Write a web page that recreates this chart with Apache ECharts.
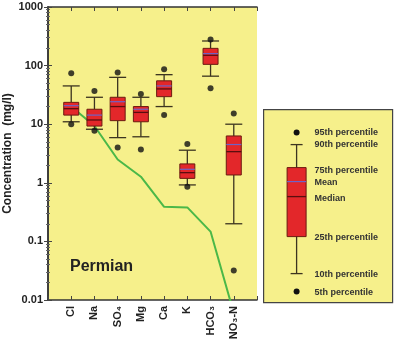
<!DOCTYPE html>
<html>
<head>
<meta charset="utf-8">
<script src="https://cdn.jsdelivr.net/npm/echarts@6/dist/echarts.min.js"></script>
<style>html,body{margin:0;padding:0;background:#fff;}#c{width:400px;height:344px;}</style>
</head>
<body>
<div id="c"></div>
<script>
var categories = ['Cl', 'Na', 'SO\u2084', 'Mg', 'Ca', 'K', 'HCO\u2083', 'NO\u2083-N'];
var p5     = [10,   7.7,  4.0,  3.7,  14.3, 0.86, 41,  0.032];
var p10    = [11,   8.2,  5.9,  6.1,  20,   0.92, 66,  0.2];
var p25    = [14.3, 9.3,  11.5, 11,   29.5, 1.19, 105, 1.36];
var median = [18.4, 11.8, 20,   15.9, 40,   1.49, 150, 3.4];
var mean   = [20.7, 14.3, 24.2, 18,   45,   1.7,  160, 4.5];
var p75    = [23.6, 18,   28.8, 20,   55,   2.1,  197, 6.3];
var p90    = [45,   28.8, 63,   28.8, 70,   3.6,  263, 10];
var p95    = [74,   37,   76,   32.7, 87,   4.6,  280, 15.3];
var greenLine = [20, 9.3, 2.5, 1.27, 0.39, 0.38, 0.147, 0.006];
var yTicks = [0.01, 0.1, 1, 10, 100, 1000];

var BG = '#f6f08b';
var FONT = 'Liberation Sans, Arial, sans-serif';
var BOX = '#e3272a', BOXB = '#6b1a10', WHISK = '#3c3420', MED = '#5a0e0e', MEAN = '#6d63c8';

var boxData = categories.map(function (c, i) {
  return [i + 1, p10[i], p25[i], median[i], mean[i], p75[i], p90[i]];
});
var dotData = [];
categories.forEach(function (c, i) {
  dotData.push([i + 1, p5[i]]);
  dotData.push([i + 1, p95[i]]);
});
var lineData = categories.map(function (c, i) { return [i + 1, greenLine[i]]; });

function renderBox(params, api) {
  var x = api.value(0);
  var a = api.coord([x, api.value(1)]);
  var q1 = api.coord([x, api.value(2)]);
  var md = api.coord([x, api.value(3)]);
  var mn = api.coord([x, api.value(4)]);
  var q3 = api.coord([x, api.value(5)]);
  var b = api.coord([x, api.value(6)]);
  var cx = a[0], hw = 7.5, cw = 8.5;
  var ls = { stroke: WHISK, lineWidth: 1.3 };
  return {
    type: 'group',
    children: [
      { type: 'line', shape: { x1: cx, y1: a[1], x2: cx, y2: q1[1] }, style: ls },
      { type: 'line', shape: { x1: cx, y1: q3[1], x2: cx, y2: b[1] }, style: ls },
      { type: 'line', shape: { x1: cx - cw, y1: a[1], x2: cx + cw, y2: a[1] }, style: ls },
      { type: 'line', shape: { x1: cx - cw, y1: b[1], x2: cx + cw, y2: b[1] }, style: ls },
      { type: 'rect', shape: { x: cx - hw, y: q3[1], width: 2 * hw, height: q1[1] - q3[1] }, style: { fill: BOX, stroke: BOXB, lineWidth: 1 } },
      { type: 'line', shape: { x1: cx - hw, y1: md[1], x2: cx + hw, y2: md[1] }, style: { stroke: MED, lineWidth: 1.3 } },
      { type: 'line', shape: { x1: cx - hw, y1: mn[1], x2: cx + hw, y2: mn[1] }, style: { stroke: MEAN, lineWidth: 1.2 } }
    ]
  };
}

var axisLineStyle = { color: '#333', width: 1.5 };
var xBase = {
  type: 'value', min: 0, max: 9, interval: 1,
  axisLine: { show: true, lineStyle: axisLineStyle },
  axisTick: { show: true, inside: true, length: 4, lineStyle: { color: '#444' } },
  splitLine: { show: false }
};
var yBase = {
  type: 'log', logBase: 10, min: 0.01, max: 1000,
  axisLine: { show: true, lineStyle: axisLineStyle },
  axisTick: { show: true, inside: true, length: 4, lineStyle: { color: '#444' } },
  minorTick: { show: true, splitNumber: 9, length: 2, lineStyle: { color: '#666' } },
  splitLine: { show: false }
};

var chart = echarts.init(document.getElementById('c'), null, { renderer: 'canvas' });
chart.setOption({
  backgroundColor: '#fff',
  animation: false,
  grid: { left: 48, right: 143, top: 7, bottom: 44, show: true, backgroundColor: BG, borderWidth: 0, containLabel: false, outerBoundsMode: 'none' },
  xAxis: [
    Object.assign({}, xBase, {
      position: 'bottom',
      axisLabel: {
        rotate: 90, margin: 6, fontFamily: FONT, fontWeight: 'bold', fontSize: 11, color: '#222',
        formatter: function (v) { return categories[v - 1] || ''; }
      }
    }),
    Object.assign({}, xBase, { position: 'top', axisLabel: { show: false } })
  ],
  yAxis: [
    Object.assign({}, yBase, {
      position: 'left',
      name: 'Concentration  (mg/l)', nameLocation: 'middle', nameGap: 34, nameMoveOverlap: false,
      nameTextStyle: { fontFamily: FONT, fontWeight: 'bold', fontSize: 12, color: '#222' },
      axisLabel: {
        margin: 5, fontFamily: FONT, fontWeight: 'bold', fontSize: 11, color: '#222',
        formatter: function (v) {
          for (var i = 0; i < yTicks.length; i++) {
            if (Math.abs(v - yTicks[i]) / yTicks[i] < 1e-6) return String(yTicks[i]);
          }
          return '';
        }
      }
    }),
    Object.assign({}, yBase, { position: 'right', axisLabel: { show: false } })
  ],
  series: [
    {
      type: 'line', data: lineData, xAxisIndex: 0, yAxisIndex: 0,
      symbol: 'none', clip: true, z: 1,
      lineStyle: { color: '#4bb848', width: 2 }
    },
    {
      type: 'custom', data: boxData, renderItem: renderBox, z: 3,
      encode: { x: 0, y: [1, 2, 3, 4, 5, 6] }
    },
    {
      type: 'scatter', data: dotData, symbol: 'circle', symbolSize: 6, z: 4,
      itemStyle: { color: '#111' }
    }
  ],
  graphic: [
    { type: 'text', left: 70, top: 259, style: { text: 'Permian', font: 'bold 16px ' + FONT, fill: '#222' } },
    {
      type: 'group', left: 263, top: 109,
      children: [
        { type: 'rect', shape: { x: 0, y: 0, width: 129, height: 193 }, style: { fill: BG, stroke: '#444', lineWidth: 1.2 } },
        { type: 'circle', shape: { cx: 33, cy: 23, r: 3 }, style: { fill: '#111' } },
        { type: 'circle', shape: { cx: 33, cy: 182, r: 3 }, style: { fill: '#111' } },
        { type: 'line', shape: { x1: 33, y1: 35, x2: 33, y2: 164 }, style: { stroke: WHISK, lineWidth: 1.3 } },
        { type: 'line', shape: { x1: 27, y1: 35, x2: 39, y2: 35 }, style: { stroke: WHISK, lineWidth: 1.3 } },
        { type: 'line', shape: { x1: 27, y1: 164, x2: 39, y2: 164 }, style: { stroke: WHISK, lineWidth: 1.3 } },
        { type: 'rect', shape: { x: 23.5, y: 58, width: 19, height: 69 }, style: { fill: BOX, stroke: BOXB, lineWidth: 1 } },
        { type: 'line', shape: { x1: 23.5, y1: 72, x2: 42.5, y2: 72 }, style: { stroke: MEAN, lineWidth: 1.2 } },
        { type: 'line', shape: { x1: 23.5, y1: 87, x2: 42.5, y2: 87 }, style: { stroke: MED, lineWidth: 1.3 } },
        { type: 'text', x: 51, y: 23, style: { text: '95th percentile', font: 'bold 9px ' + FONT, fill: '#333', verticalAlign: 'middle' } },
        { type: 'text', x: 51, y: 35, style: { text: '90th percentile', font: 'bold 9px ' + FONT, fill: '#333', verticalAlign: 'middle' } },
        { type: 'text', x: 51, y: 61, style: { text: '75th percentile', font: 'bold 9px ' + FONT, fill: '#333', verticalAlign: 'middle' } },
        { type: 'text', x: 51, y: 73, style: { text: 'Mean', font: 'bold 9px ' + FONT, fill: '#333', verticalAlign: 'middle' } },
        { type: 'text', x: 51, y: 89, style: { text: 'Median', font: 'bold 9px ' + FONT, fill: '#333', verticalAlign: 'middle' } },
        { type: 'text', x: 51, y: 128, style: { text: '25th percentile', font: 'bold 9px ' + FONT, fill: '#333', verticalAlign: 'middle' } },
        { type: 'text', x: 51, y: 165, style: { text: '10th percentile', font: 'bold 9px ' + FONT, fill: '#333', verticalAlign: 'middle' } },
        { type: 'text', x: 51, y: 183, style: { text: '5th percentile', font: 'bold 9px ' + FONT, fill: '#333', verticalAlign: 'middle' } }
      ]
    }
  ]
});
</script>
</body>
</html>
